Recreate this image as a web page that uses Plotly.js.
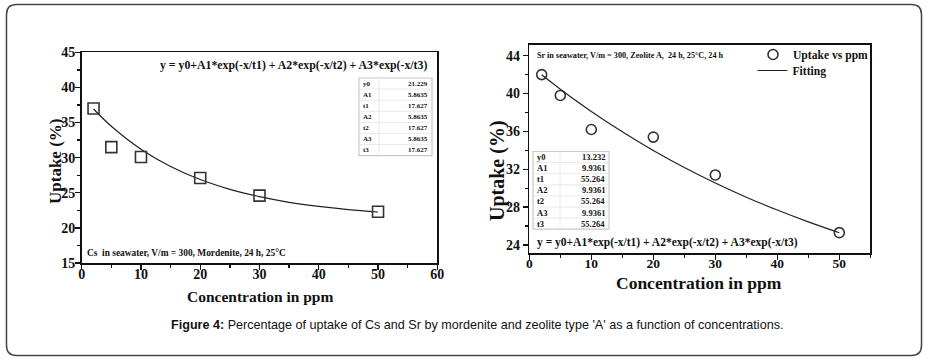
<!DOCTYPE html>
<html>
<head>
<meta charset="utf-8">
<script src="https://cdn.plot.ly/plotly-3.0.1.min.js"></script>
<style>html,body{margin:0;padding:0;background:#fff;}#chart{width:927px;height:359px;}</style>
</head>
<body>
<div id="chart"></div>
<script>
// ---- Data ----
const csConc = [2, 5, 10, 20, 30, 50];
const csUptake = [37.0, 31.5, 30.1, 27.1, 24.6, 22.3];
const csFitConc = [2, 5, 10, 15, 20, 25, 30, 35, 40, 45, 50];
const csFitUptake = [36.93, 34.47, 31.20, 28.74, 26.88, 25.49, 24.44, 23.64, 23.05, 22.60, 22.26];

const srConc = [2, 5, 10, 20, 30, 50];
const srUptake = [42.0, 39.8, 36.2, 35.4, 31.4, 25.3];
const srFitConc = [2, 5, 10, 15, 20, 25, 30, 35, 40, 45, 50];
const srFitUptake = [41.98, 40.46, 38.11, 35.96, 33.99, 32.19, 30.55, 29.05, 27.69, 26.44, 25.29];

// tick labels
const csXTicks = [0, 10, 20, 30, 40, 50, 60];
const csYTicks = [15, 20, 25, 30, 35, 40, 45];
const srXTicks = [0, 10, 20, 30, 40, 50];
const srYTicks = [24, 28, 32, 36, 40, 44];

const paramNames = ["y0", "A1", "t1", "A2", "t2", "A3", "t3"];
const csParams = ["21.229", "5.8635", "17.627", "5.8635", "17.627", "5.8635", "17.627"];
const srParams = ["13.232", "9.9361", "55.264", "9.9361", "55.264", "9.9361", "55.264"];

const equation = "y = y0+A1*exp(-x/t1) + A2*exp(-x/t2) + A3*exp(-x/t3)";
const csNote = "Cs  in seawater, V/m = 300, Mordenite, 24 h, 25°C";
const srNote = "Sr in seawater, V/m = 300, Zeolite A,  24 h, 25°C, 24 h";
const xTitle = "Concentration in ppm";
const yTitle = "Uptake (%)";
const captionBold = "Figure 4:";
const captionText = " Percentage of uptake of Cs and Sr by mordenite and zeolite type 'A' as a function of concentrations.";

// ---- Layout helpers ----
const W = 927, H = 359;
const px = x => x / W;
const py = y => 1 - y / H;
const SERIF = "Liberation Serif, Times New Roman, serif";
const SANS = "Liberation Sans, Arial, sans-serif";
const bold = (size, color) => ({family: SERIF, size: size, color: color || "#111", weight: "bold"});
const boldTicks = vals => vals.map(v => "<b>" + v + "</b>");

const traces = [
  {x: csFitConc, y: csFitUptake, xaxis: "x", yaxis: "y", mode: "lines", line: {color: "#222", width: 1.2, shape: "spline"}, showlegend: false, hoverinfo: "skip"},
  {x: csConc, y: csUptake, xaxis: "x", yaxis: "y", mode: "markers", marker: {symbol: "square-open", size: 11, color: "#333", line: {width: 1.6}}, showlegend: false},
  {x: srConc, y: srUptake, xaxis: "x2", yaxis: "y2", mode: "markers", name: "Uptake vs ppm", legend: "legend", marker: {symbol: "circle-open", size: 10, color: "#333", line: {width: 1.6}}},
  {x: srFitConc, y: srFitUptake, xaxis: "x2", yaxis: "y2", mode: "lines", name: "Fitting", legend: "legend2", line: {color: "#222", width: 1.2, shape: "spline"}}
];

const axisCommon = {
  showgrid: false, zeroline: false, showline: true, linecolor: "#111", linewidth: 1.6, mirror: true,
  ticks: "outside", ticklen: 5, tickwidth: 1.3, tickcolor: "#111",
  tickfont: {family: SERIF, size: 14, color: "#111"}, fixedrange: true, tickmode: "array"
};

const annotations = [];
const shapes = [];
function note(text, x, y, size, anchor, extra) {
  annotations.push(Object.assign({text: text, xref: "paper", yref: "paper", x: px(x), y: py(y), xanchor: anchor || "left", yanchor: "middle", showarrow: false, font: bold(size)}, extra || {}));
}

// axis titles
note(xTitle, 259.5, 296, 15.5, "center");
note(yTitle, 55, 162, 17, "center", {textangle: -90});
note(xTitle, 699, 283, 17.5, "center");
note(yTitle, 497, 171, 20, "center", {textangle: -90});

// equations and notes
note(equation, 158, 65, 11.8, "left");
note(equation, 535, 242, 11.5, "left");
note(csNote, 85, 253, 9.4, "left");
note(srNote, 535, 56, 8.2, "left");

// parameter tables
function table(x0, x1, xdiv, y0, rowH, vals, fsize) {
  const n = paramNames.length;
  shapes.push({type: "rect", xref: "paper", yref: "paper", x0: px(x0), x1: px(x1), y0: py(y0), y1: py(y0 + n * rowH), line: {color: "#c8c8c8", width: 1.2}, fillcolor: "rgba(255,255,255,0)"});
  shapes.push({type: "line", xref: "paper", yref: "paper", x0: px(xdiv), x1: px(xdiv), y0: py(y0), y1: py(y0 + n * rowH), line: {color: "#e4e4e4", width: 0.8}});
  for (let i = 0; i < n; i++) {
    const yc = y0 + (i + 0.5) * rowH;
    if (i > 0) shapes.push({type: "line", xref: "paper", yref: "paper", x0: px(x0), x1: px(x1), y0: py(y0 + i * rowH), y1: py(y0 + i * rowH), line: {color: "#e4e4e4", width: 0.8}});
    note(paramNames[i], x0 + 2, yc, fsize, "left");
    note(vals[i], x1 - 2, yc, fsize, "right");
  }
}
table(359, 432, 379, 78, 11.1, csParams, 7);
table(533, 609, 560, 151.5, 11.1, srParams, 8.5);

// caption
annotations.push({text: "<b>" + captionBold + "</b>" + captionText, xref: "paper", yref: "paper", x: px(477), y: py(325), xanchor: "center", yanchor: "middle", showarrow: false, font: {family: SANS, size: 12.6, color: "#111"}});

// outer rounded frame
(function () {
  const x1 = 6.5, x2 = 921.5, y1 = 4.5, y2 = 355.5, r = 10;
  const P = (x, y) => px(x) + "," + py(y);
  const path = "M" + P(x1 + r, y1) + " L" + P(x2 - r, y1) + " Q" + P(x2, y1) + " " + P(x2, y1 + r) +
    " L" + P(x2, y2 - r) + " Q" + P(x2, y2) + " " + P(x2 - r, y2) +
    " L" + P(x1 + r, y2) + " Q" + P(x1, y2) + " " + P(x1, y2 - r) +
    " L" + P(x1, y1 + r) + " Q" + P(x1, y1) + " " + P(x1 + r, y1) + " Z";
  shapes.push({type: "path", xref: "paper", yref: "paper", path: path, line: {color: "#444", width: 1.5}});
})();

const minorOut = d => ({dtick: d, ticklen: 3, tickcolor: "#111", ticks: "outside"});
const legendBase = {xanchor: "left", yanchor: "top", bgcolor: "rgba(0,0,0,0)", font: bold(11.6), itemwidth: 30};

const layout = {
  width: W, height: H,
  margin: {l: 0, r: 0, t: 0, b: 0},
  paper_bgcolor: "#fff", plot_bgcolor: "#fff",
  font: {family: SERIF, color: "#111"},
  xaxis: Object.assign({}, axisCommon, {domain: [px(81.7), px(437.3)], range: [0, 60], tickvals: csXTicks, ticktext: boldTicks(csXTicks), minor: minorOut(5), anchor: "y", ticklabelstandoff: -7}),
  yaxis: Object.assign({}, axisCommon, {domain: [py(263), py(52.3)], range: [15, 45], tickvals: csYTicks, ticktext: boldTicks(csYTicks), minor: minorOut(2.5), anchor: "x", ticklabelstandoff: -3}),
  xaxis2: Object.assign({}, axisCommon, {domain: [px(529.3), px(870.3)], range: [0, 55], tickvals: srXTicks, ticktext: boldTicks(srXTicks), tickfont: {family: SERIF, size: 13.5, color: "#111"}, minor: minorOut(5), anchor: "y2", ticklabelstandoff: -8}),
  yaxis2: Object.assign({}, axisCommon, {domain: [py(253.3), py(45)], range: [23.12, 45.13], tickvals: srYTicks, ticktext: boldTicks(srYTicks), minor: Object.assign(minorOut(2), {tick0: 24}), anchor: "x2"}),
  showlegend: true,
  legend: Object.assign({}, legendBase, {x: px(753), y: py(40)}),
  legend2: Object.assign({}, legendBase, {x: px(752.5), y: py(56)}),
  annotations: annotations,
  shapes: shapes
};

Plotly.newPlot("chart", traces, layout, {staticPlot: true, displayModeBar: false});
</script>
</body>
</html>
